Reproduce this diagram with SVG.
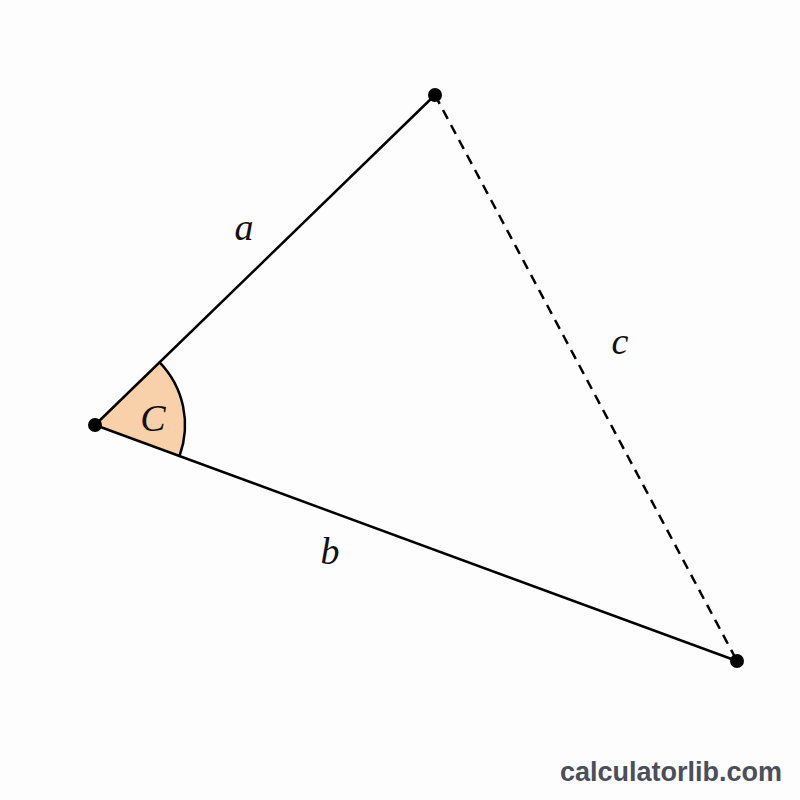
<svg xmlns="http://www.w3.org/2000/svg" width="800" height="800" viewBox="0 0 800 800">
<style>
.side{stroke:#000;stroke-width:2.5;fill:none;stroke-linecap:round}
.dash{stroke:#000;stroke-width:2.5;fill:none;stroke-dasharray:10 7}
.dot{fill:#000}
.lbl{font-family:"Liberation Serif","DejaVu Serif",serif;font-style:italic;font-size:38px;fill:#111}
.wm{font-family:"Liberation Sans",Arial,sans-serif;font-weight:bold;font-size:27px;fill:#4a4f5a}
</style>
<rect width="800" height="800" fill="#fdfdfd"/>
<g id="angle">
<path d="M95,425 L159.6,362.3 A90,90 0 0 1 179.5,456 Z" fill="#f8d1aa" stroke="none"/>
<path d="M159.6,362.3 A90,90 0 0 1 179.5,456" class="side" stroke-width="2"/>
<text class="lbl" x="153" y="431" text-anchor="middle">C</text>
</g>
<g id="connectors">
<line class="side" x1="95" y1="425" x2="435" y2="95"/>
<line class="side" x1="95" y1="425" x2="737" y2="661"/>
<line class="dash" x1="435" y1="95" x2="737" y2="661"/>
</g>
<g id="vertexC"><circle class="dot" cx="95" cy="425" r="7"/></g>
<g id="vertexA"><circle class="dot" cx="435" cy="95" r="7"/></g>
<g id="vertexB"><circle class="dot" cx="737" cy="661" r="7"/></g>
<g id="labels">
<text class="lbl" x="244" y="240" text-anchor="middle">a</text>
<text class="lbl" x="330" y="564" text-anchor="middle">b</text>
<text class="lbl" x="620" y="354" text-anchor="middle">c</text>
</g>
<text class="wm" x="782" y="781" text-anchor="end">calculatorlib.com</text>
</svg>
